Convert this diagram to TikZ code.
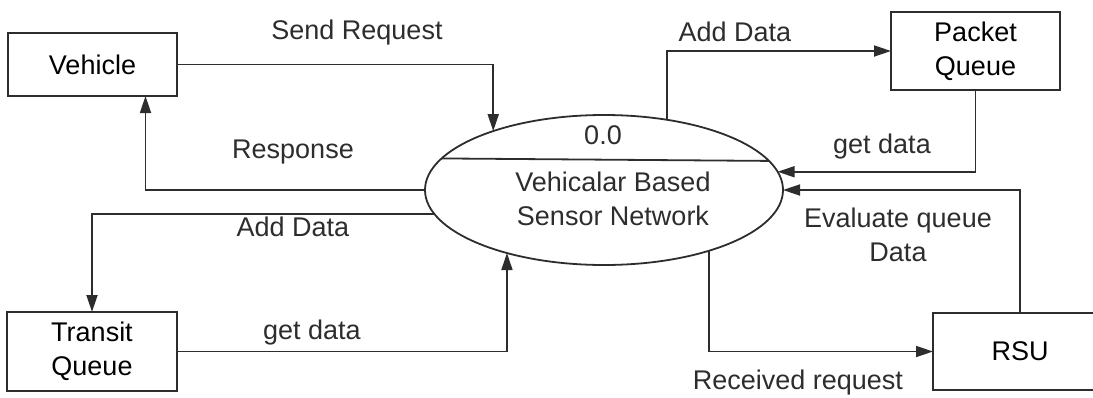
\documentclass[tikz,border=0pt]{standalone}
\usepackage{fontspec}
\setmainfont{Liberation Sans}
\usetikzlibrary{arrows.meta,shapes.geometric}
\definecolor{dfdgray}{RGB}{45,45,45}
\tikzset{>={Triangle[length=17pt,width=11pt]},
         store/.style={draw=dfdgray, inner sep=0pt, outer sep=0pt, align=center},
         process/.style={draw=dfdgray, ellipse, inner sep=0pt, outer sep=0pt,
                         minimum width=358pt, minimum height=150pt},
         flow/.style={->, draw=dfdgray},
         lbl/.style={text=dfdgray, inner sep=0pt, align=center}}

\begin{document}
\begin{tikzpicture}[x=1pt, y=-1pt, line width=1.8pt,
                    font=\fontsize{27}{34}\selectfont]
\useasboundingbox (0,0) rectangle (1093,397);
% entities and stores
\node[store, minimum width=169pt, minimum height=63pt] (veh) at (92.5,64.5) {Vehicle};
\node[store, minimum width=170pt, minimum height=79pt] (tq) at (92,351.5) {Transit\\Queue};
\node[store, minimum width=169pt, minimum height=78pt] (pq) at (975.5,51) {Packet\\Queue};
\node[store, minimum width=174pt, minimum height=77pt] (rsu) at (1020,351.5) {RSU};
% process
\node[process] (net) at (604,190) {};
\draw[dfdgray] (net.169.2) -- (net.10.8);
\node[lbl] (pid) at (603,135) {0.0};
\node[lbl] (pname) at (613,198.5) {Vehicalar Based\\Sensor Network};
% flows
\draw[flow] (veh.east) -| (net.152);
\draw[flow] (net.west) -| ([xshift=53pt]veh.south);
\draw[flow] (net.188) -| (tq.north);
\draw[flow] (tq.east) -| (net.213.3);
\draw[flow] (net.48.6) |- (pq.west);
\draw[flow] (pq.south) |- (net.6.6);
\draw[flow] (rsu.north) |- (net.east);
\draw[flow] (net.-30) |- (rsu.west);
% flow labels
\node[lbl] (lsend) at (357,33) {Send Request};
\node[lbl] (lresp) at (293,152) {Response};
\node[lbl] (laddl) at (293,227) {Add Data};
\node[lbl] (lgetl) at (312,333) {get data};
\node[lbl] (laddr) at (735,32) {Add Data};
\node[lbl] (lgetr) at (882,147) {get data};
\node[lbl] (leval) at (898,235) {Evaluate queue\\Data};
\node[lbl] (lrecv) at (798,383) {Received request};
\end{tikzpicture}
\end{document}
